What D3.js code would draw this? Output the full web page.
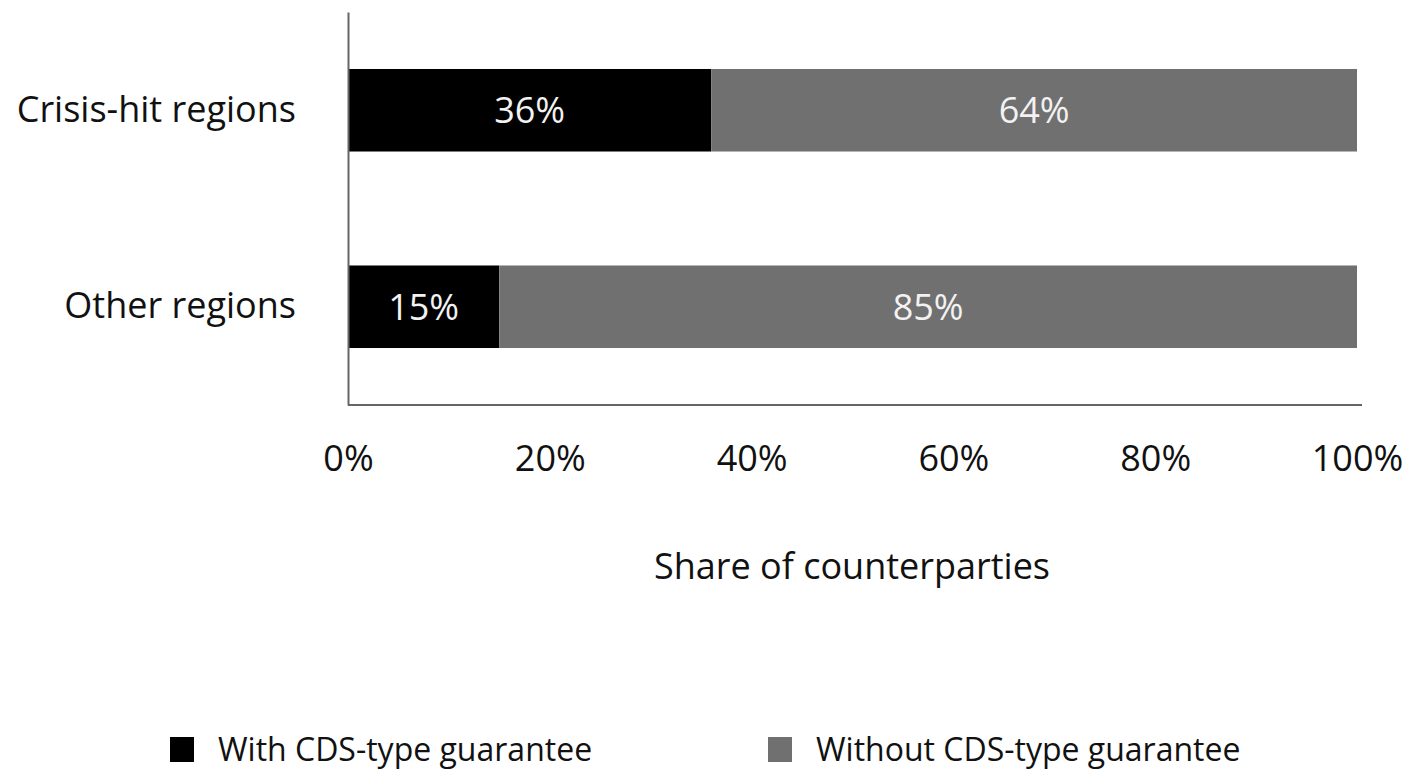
<!DOCTYPE html>
<html>
<head>
<meta charset="utf-8">
<script src="https://cdn.jsdelivr.net/npm/d3@7"></script>
<style>
  body { margin: 0; background: #fff; }
  text { font-family: "Open Sans", "Noto Sans", sans-serif; }
</style>
</head>
<body>
<div id="chart"></div>
<script>
// chart data
const categories = ['Crisis-hit regions', 'Other regions']
const withCds = [36, 15]
const withoutCds = [64, 85]
const seriesNames = ['With CDS-type guarantee', 'Without CDS-type guarantee']
const tickValues = [0, 20, 40, 60, 80, 100]

const W = 1410, H = 776
const colors = ['#000000', '#707070']

const svg = d3.select('#chart').append('svg')
    .attr('width', W).attr('height', H)

const x = d3.scaleLinear().domain([0, 100]).range([348, 1357])
const y = d3.scaleBand().domain(categories).range([12, 405]).paddingInner(0.58).paddingOuter(0.29)

// stacked rows
const rows = categories.map((c, i) => ({ cat: c, vals: [withCds[i], withoutCds[i]] }))
const stack = d3.stack().keys([0, 1]).value((d, k) => d.vals[k])(rows)

stack.forEach((layer, k) => {
    svg.append('g').selectAll('rect')
        .data(layer)
        .join('rect')
        .attr('x', d => x(d[0]))
        .attr('y', d => y(d.data.cat))
        .attr('width', d => x(d[1]) - x(d[0]))
        .attr('height', y.bandwidth())
        .attr('fill', colors[k])
    svg.append('g').selectAll('text')
        .data(layer)
        .join('text')
        .attr('x', d => (x(d[0]) + x(d[1])) / 2)
        .attr('y', d => y(d.data.cat) + y.bandwidth() / 2)
        .attr('dy', '0.36em')
        .attr('text-anchor', 'middle')
        .attr('fill', '#f2f2f2')
        .attr('font-size', 36)
        .text(d => (d[1] - d[0]) + '%')
})

// y axis
const yAxis = svg.append('g')
    .attr('transform', `translate(${x(0)},0)`)
    .call(d3.axisLeft(y).tickSize(0).tickPadding(52))
yAxis.select('.domain').attr('stroke', '#666').attr('stroke-width', 2)
yAxis.selectAll('text').attr('font-size', 36).attr('fill', '#111')
    .style('font-family', '"Open Sans", sans-serif')

// x axis
const xAxis = svg.append('g')
    .attr('transform', 'translate(0,405)')
    .call(d3.axisBottom(x).tickValues(tickValues).tickFormat(d => d + '%').tickSize(0).tickPadding(40))
xAxis.select('.domain').attr('stroke', '#666').attr('stroke-width', 2)
    .attr('d', `M${x(0)},0H${x(100) + 5}`)
xAxis.selectAll('text').attr('font-size', 36).attr('fill', '#111')
    .style('font-family', '"Open Sans", sans-serif')

svg.append('text')
    .attr('x', 852).attr('y', 579)
    .attr('text-anchor', 'middle')
    .attr('font-size', 36).attr('fill', '#111')
    .text('Share of counterparties')

// legend
const legX = [170, 768]
const legend = svg.append('g').selectAll('g')
    .data(seriesNames)
    .join('g')
    .attr('transform', (d, i) => `translate(${legX[i]},737)`)
legend.append('rect')
    .attr('width', 24).attr('height', 25)
    .attr('fill', (d, i) => colors[i])
legend.append('text')
    .attr('x', 48).attr('y', 12)
    .attr('dy', '0.36em')
    .attr('font-size', 32).attr('fill', '#111')
    .text(d => d)
</script>
</body>
</html>
